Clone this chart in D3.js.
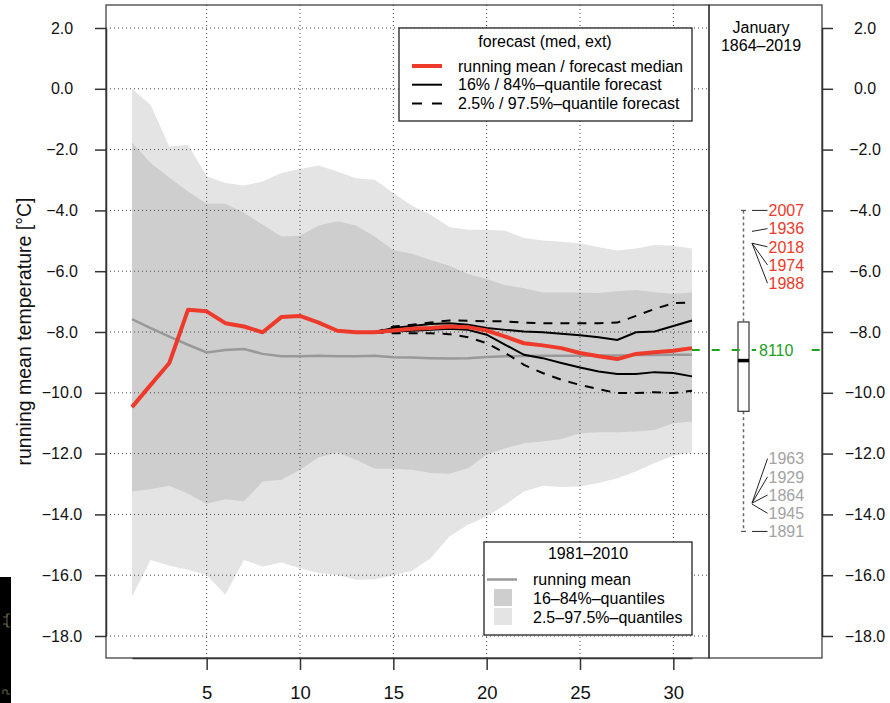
<!DOCTYPE html>
<html>
<head>
<meta charset="utf-8">
<script src="https://cdnjs.cloudflare.com/ajax/libs/d3/7.8.5/d3.min.js"></script>
<style>
  body { margin: 0; background: #fff; }
  text { font-family: "Liberation Sans", Arial, Helvetica, sans-serif; }
</style>
</head>
<body>
<div id="chart"></div>
<script>
// days of January
var days = d3.range(1, 32);
var fcDays = d3.range(14, 32);

// 1981-2010 climatology
var climMean = [-7.58, -7.87, -8.15, -8.42, -8.67, -8.59, -8.56, -8.72, -8.80, -8.80, -8.78, -8.80, -8.80, -8.78, -8.83, -8.84,
                -8.86, -8.87, -8.86, -8.82, -8.80, -8.79, -8.78, -8.78, -8.78, -8.77, -8.77, -8.76, -8.76, -8.75, -8.75];
var clim975 = [0.0, -0.53, -1.90, -1.84, -2.88, -3.10, -3.18, -3.05, -2.77, -2.64, -2.52, -2.72, -2.94, -2.99, -3.43, -3.85,
               -4.14, -4.55, -4.64, -4.64, -4.67, -4.91, -4.99, -5.03, -5.08, -5.21, -5.32, -5.25, -5.14, -5.16, -5.25];
var clim84 = [-1.77, -2.44, -2.93, -3.38, -3.78, -3.78, -4.08, -4.47, -4.86, -4.83, -4.50, -4.36, -4.50, -4.86, -5.30, -5.43,
              -5.63, -5.82, -6.09, -6.26, -6.46, -6.56, -6.70, -6.70, -6.70, -6.72, -6.66, -6.62, -6.69, -6.74, -6.70];
var clim16 = [-13.25, -13.17, -13.06, -13.32, -13.65, -13.50, -13.57, -12.92, -12.86, -12.53, -12.12, -11.96, -12.20, -12.50, -12.50, -12.53,
              -12.64, -12.66, -12.48, -12.04, -11.82, -11.66, -11.60, -11.52, -11.33, -11.30, -11.30, -11.27, -11.22, -11.00, -10.94];
var clim025 = [-16.70, -15.50, -15.69, -15.82, -15.99, -16.64, -15.50, -15.71, -15.58, -15.77, -15.93, -15.99, -16.15, -16.13, -16.00, -15.85,
               -15.44, -14.73, -14.34, -14.07, -13.68, -13.25, -13.06, -13.10, -13.08, -12.97, -12.81, -12.59, -12.31, -12.07, -11.96];

// running mean / forecast median
var runMean = [-10.47, -9.74, -9.02, -7.27, -7.32, -7.71, -7.82, -8.01, -7.51, -7.47, -7.69, -7.96, -8.01, -8.01, -7.95, -7.89,
               -7.87, -7.82, -7.84, -7.95, -8.15, -8.37, -8.44, -8.53, -8.69, -8.80, -8.89, -8.72, -8.67, -8.62, -8.53];
// forecast quantiles (from day 14)
var fc84 = [-8.01, -7.87, -7.80, -7.74, -7.71, -7.76, -7.87, -7.93, -7.98, -8.01, -8.06, -8.11, -8.17, -8.26, -8.01, -7.98, -7.80, -7.62];
var fc16 = [-8.01, -7.98, -7.96, -7.93, -7.89, -7.93, -8.09, -8.42, -8.75, -8.86, -9.02, -9.17, -9.30, -9.38, -9.38, -9.32, -9.35, -9.46];
var fc975 = [-8.01, -7.82, -7.76, -7.69, -7.62, -7.63, -7.65, -7.65, -7.69, -7.71, -7.71, -7.71, -7.71, -7.69, -7.47, -7.24, -7.05, -7.03];
var fc025 = [-8.01, -8.04, -8.04, -8.04, -8.07, -8.17, -8.37, -8.69, -9.08, -9.35, -9.57, -9.74, -9.88, -10.01, -10.01, -9.98, -10.01, -9.93];

// January 1864-2019 box plot
var boxStats = { lo: -14.56, q1: -10.61, med: -8.94, q3: -7.67, hi: -4.0 };
var currentVal = -8.59;
var currentLabel = "8110";
var warmYears = ["2007", "1936", "2018", "1974", "1988"];
var warmVals = [-4.0, -4.69, -5.08, -5.08, -5.08];
var coldYears = ["1963", "1929", "1864", "1945", "1891"];
var coldVals = [-13.63, -13.63, -13.63, -13.66, -14.56];

var xTicks = [5, 10, 15, 20, 25, 30];
var yTicks = d3.range(2, -19, -2);

var W = 890, H = 703;
var L = 106, R = 709, T = 5, B = 658, P2 = 822;
var red = "#ee3a2a", green = "#21a021", lightGrey = "#e4e4e4", darkGrey = "#cecece";

var svg = d3.select("#chart").append("svg").attr("width", W).attr("height", H);

var x = d3.scaleLinear().domain([1, 31]).range([132, 692]);
var y = d3.scaleLinear().domain([2, -18]).range([28, 636]);

function fmt(d) { return (d < 0 ? "\u2212" : "") + Math.abs(d).toFixed(1); }

// bands
var band = function(lo, hi) {
  return d3.area().x(function(d, i) { return x(days[i]); })
    .y0(function(d, i) { return y(lo[i]); })
    .y1(function(d, i) { return y(hi[i]); })(days);
};
svg.append("path").attr("d", band(clim025, clim975)).attr("fill", lightGrey);
svg.append("path").attr("d", band(clim16, clim84)).attr("fill", darkGrey);

// grid
svg.append("g").selectAll("line").data(yTicks).join("line")
  .attr("x1", L).attr("x2", R).attr("y1", d => y(d)).attr("y2", d => y(d))
  .attr("stroke", "#444").attr("stroke-width", 1).attr("stroke-dasharray", "1,3");
svg.append("g").selectAll("line").data(xTicks).join("line")
  .attr("x1", d => x(d)).attr("x2", d => x(d)).attr("y1", T).attr("y2", B)
  .attr("stroke", "#444").attr("stroke-width", 1).attr("stroke-dasharray", "1,3");

// lines
var line = d3.line().x(d => x(d[0])).y(d => y(d[1]));
function pairs(xs, ys) { return xs.map(function(d, i) { return [d, ys[i]]; }); }

svg.append("path").attr("d", line(pairs(days, climMean)))
  .attr("fill", "none").attr("stroke", "#999").attr("stroke-width", 2.5);
[fc975, fc025].forEach(function(s) {
  svg.append("path").attr("d", line(pairs(fcDays, s)))
    .attr("fill", "none").attr("stroke", "#000").attr("stroke-width", 2).attr("stroke-dasharray", "9,8");
});
[fc84, fc16].forEach(function(s) {
  svg.append("path").attr("d", line(pairs(fcDays, s)))
    .attr("fill", "none").attr("stroke", "#000").attr("stroke-width", 2);
});
svg.append("path").attr("d", line(pairs(days, runMean)))
  .attr("fill", "none").attr("stroke", red).attr("stroke-width", 4).attr("stroke-linejoin", "round");

// frame
svg.append("rect").attr("x", L).attr("y", T).attr("width", R - L).attr("height", B - T)
  .attr("fill", "none").attr("stroke", "#333").attr("stroke-width", 1.2);
svg.append("rect").attr("x", R).attr("y", T).attr("width", P2 - R).attr("height", B - T)
  .attr("fill", "none").attr("stroke", "#333").attr("stroke-width", 1.2);

// axes
var gl = svg.append("g").attr("transform", "translate(" + L + ",0)")
  .call(d3.axisLeft(y).tickValues(yTicks).tickSize(11).tickSizeOuter(0).tickFormat(fmt));
gl.selectAll("text").attr("x", 62 - L).attr("text-anchor", "middle");

var gr = svg.append("g").attr("transform", "translate(" + P2 + ",0)")
  .call(d3.axisRight(y).tickValues(yTicks).tickSize(11).tickSizeOuter(0).tickFormat(fmt));
gr.selectAll("text").attr("x", 865 - P2).attr("text-anchor", "middle");

var gb = svg.append("g").attr("transform", "translate(0," + B + ")")
  .call(d3.axisBottom(x).tickValues(xTicks).tickSize(12).tickSizeOuter(0).tickFormat(d3.format("d")));
gb.selectAll("text").attr("y", 40.5).attr("dy", null);

[gl, gr, gb].forEach(function(g) {
  g.select(".domain").attr("stroke", "#333").attr("stroke-width", 1.5);
  g.selectAll(".tick line").attr("stroke", "#333").attr("stroke-width", 1.5);
  g.selectAll("text").attr("font-size", 16).attr("fill", "#111")
    .style("font-family", "'Liberation Sans', Arial, sans-serif");
});
gb.selectAll("text").attr("font-size", 18.5);

svg.append("text").attr("transform", "translate(31," + ((T + B) / 2) + ") rotate(-90)")
  .attr("text-anchor", "middle").attr("font-size", 19.5).attr("fill", "#111")
  .text("running mean temperature [\u00B0C]");

// right panel: January 1864-2019
svg.append("text").attr("x", 761).attr("y", 33).attr("text-anchor", "middle").attr("font-size", 16).text("January");
svg.append("text").attr("x", 761).attr("y", 51).attr("text-anchor", "middle").attr("font-size", 16).text("1864\u20132019");

var bx = 743.5, bw = 11;
svg.append("line").attr("x1", bx).attr("x2", bx).attr("y1", y(boxStats.hi)).attr("y2", y(boxStats.q3))
  .attr("stroke", "#666").attr("stroke-width", 1.5).attr("stroke-dasharray", "3,3");
svg.append("line").attr("x1", bx).attr("x2", bx).attr("y1", y(boxStats.q1)).attr("y2", y(boxStats.lo))
  .attr("stroke", "#666").attr("stroke-width", 1.5).attr("stroke-dasharray", "3,3");
[boxStats.hi, boxStats.lo].forEach(function(v) {
  svg.append("line").attr("x1", bx - 2.5).attr("x2", bx + 2.5).attr("y1", y(v)).attr("y2", y(v))
    .attr("stroke", "#555").attr("stroke-width", 1.2);
});
svg.append("rect").attr("x", bx - bw / 2).attr("y", y(boxStats.q3)).attr("width", bw)
  .attr("height", y(boxStats.q1) - y(boxStats.q3)).attr("fill", "#fff").attr("stroke", "#444").attr("stroke-width", 1.3);
svg.append("line").attr("x1", bx - bw / 2).attr("x2", bx + bw / 2).attr("y1", y(boxStats.med)).attr("y2", y(boxStats.med))
  .attr("stroke", "#000").attr("stroke-width", 3.5);

// extreme years
var lx0 = 752, lx1 = 767.5, step = 18.2;
warmYears.forEach(function(yr, i) {
  var ly = y(warmVals[0]) + i * step;
  svg.append("line").attr("x1", lx0).attr("y1", y(warmVals[i])).attr("x2", lx1).attr("y2", ly)
    .attr("stroke", "#222").attr("stroke-width", 1);
  svg.append("text").attr("x", 768.5).attr("y", ly).attr("dy", "0.36em").attr("font-size", 16)
    .attr("fill", red).text(yr);
});
coldYears.forEach(function(yr, i) {
  var ly = y(coldVals[coldVals.length - 1]) - (coldYears.length - 1 - i) * step;
  svg.append("line").attr("x1", lx0).attr("y1", y(coldVals[i])).attr("x2", lx1).attr("y2", ly)
    .attr("stroke", "#222").attr("stroke-width", 1);
  svg.append("text").attr("x", 768.5).attr("y", ly).attr("dy", "0.36em").attr("font-size", 16)
    .attr("fill", "#a3a3a3").text(yr);
});

// current value line
svg.append("line").attr("x1", 691.7).attr("x2", P2).attr("y1", y(currentVal)).attr("y2", y(currentVal))
  .attr("stroke", green).attr("stroke-width", 2).attr("stroke-dasharray", "8,12");
svg.append("rect").attr("x", 756).attr("y", y(currentVal) - 9).attr("width", 48).attr("height", 18).attr("fill", "#fff");
svg.append("text").attr("x", 759).attr("y", y(currentVal)).attr("dy", "0.36em").attr("font-size", 16)
  .attr("fill", green).text(currentLabel);

// legend: forecast
var lg1 = svg.append("g");
lg1.append("rect").attr("x", 399).attr("y", 28).attr("width", 293).attr("height", 93)
  .attr("fill", "#fff").attr("stroke", "#222").attr("stroke-width", 1.3);
lg1.append("text").attr("x", 545).attr("y", 47).attr("text-anchor", "middle").attr("font-size", 16).text("forecast (med, ext)");
var lg1Items = [
  { label: "running mean / forecast median", color: red, w: 4, dash: null },
  { label: "16% / 84%\u2013quantile forecast", color: "#000", w: 2, dash: null },
  { label: "2.5% / 97.5%\u2013quantile forecast", color: "#000", w: 2, dash: "10,10" }
];
lg1Items.forEach(function(d, i) {
  var ly = 66 + i * 18.7;
  lg1.append("line").attr("x1", 412).attr("x2", 442).attr("y1", ly).attr("y2", ly)
    .attr("stroke", d.color).attr("stroke-width", d.w).attr("stroke-dasharray", d.dash);
  lg1.append("text").attr("x", 458).attr("y", ly).attr("dy", "0.36em").attr("font-size", 16).text(d.label);
});

// legend: climatology
var lg2 = svg.append("g");
lg2.append("rect").attr("x", 484).attr("y", 542).attr("width", 208).attr("height", 93)
  .attr("fill", "#fff").attr("stroke", "#222").attr("stroke-width", 1.3);
lg2.append("text").attr("x", 588).attr("y", 559).attr("text-anchor", "middle").attr("font-size", 16).text("1981\u20132010");
lg2.append("line").attr("x1", 487).attr("x2", 517).attr("y1", 579.5).attr("y2", 579.5)
  .attr("stroke", "#999").attr("stroke-width", 2.5);
lg2.append("rect").attr("x", 494).attr("y", 589).attr("width", 18).attr("height", 17).attr("fill", darkGrey);
lg2.append("rect").attr("x", 494).attr("y", 608).attr("width", 18).attr("height", 17).attr("fill", lightGrey);
["running mean", "16\u201384%\u2013quantiles", "2.5\u201397.5%\u2013quantiles"].forEach(function(t, i) {
  lg2.append("text").attr("x", 533).attr("y", 579.5 + i * 18.7).attr("dy", "0.36em").attr("font-size", 16).text(t);
});

// cropped strip at the lower left edge
svg.append("rect").attr("x", 0).attr("y", 577).attr("width", 11).attr("height", 126).attr("fill", "#000");
svg.append("path").attr("d", "M3,617 h4 v-3 h3 M3,624 h4 v3 h3 M7,614 v13 M3,694 v-4 h4 v4 h3")
  .attr("fill", "none").attr("stroke", "#6e6446").attr("stroke-width", 1);
</script>
</body>
</html>
